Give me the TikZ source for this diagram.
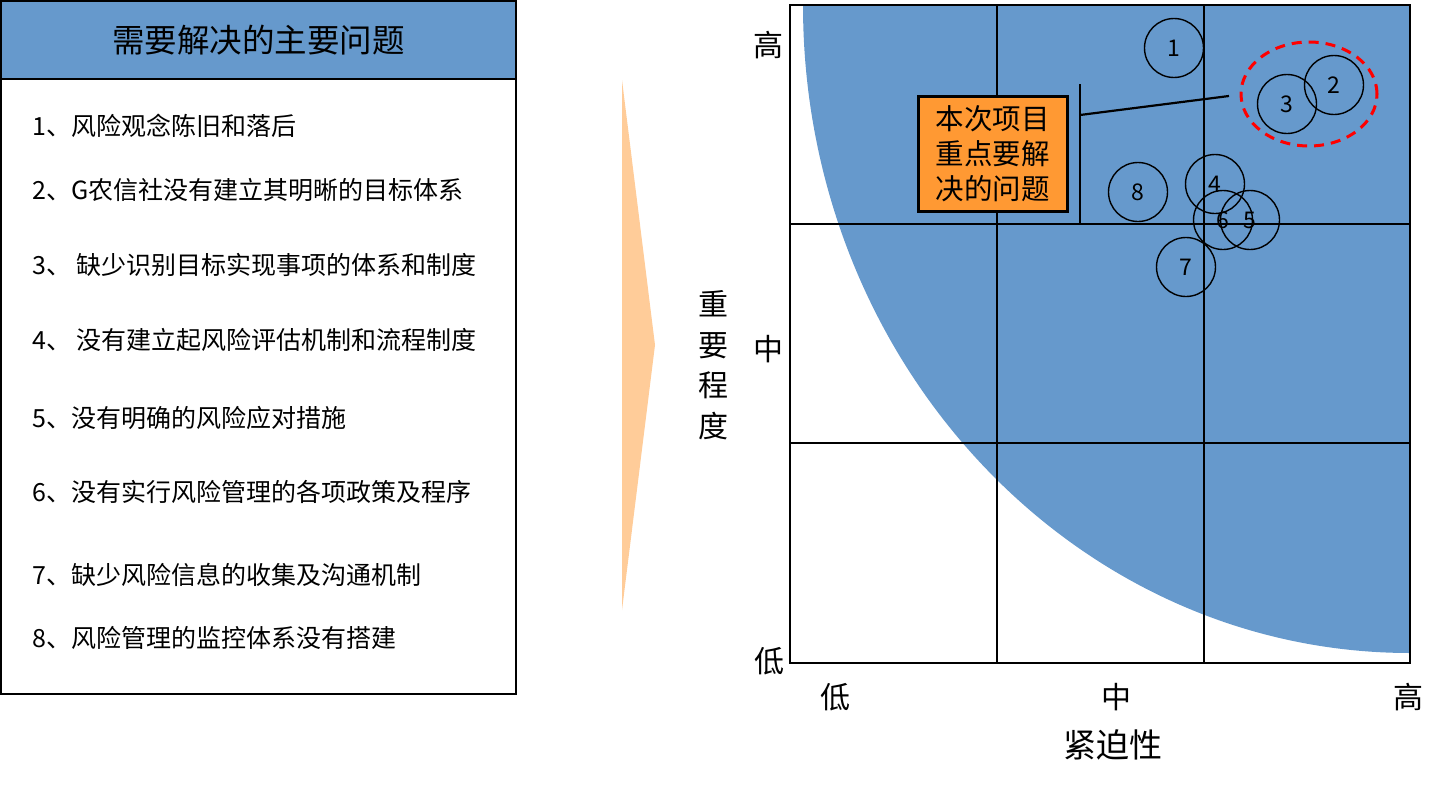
\documentclass[tikz,border=0pt]{standalone}
\usepackage{fontspec}
\setmainfont{Noto Sans CJK SC}
\usetikzlibrary{shapes.geometric}
\definecolor{chartblue}{RGB}{102,153,204}
\definecolor{boxorange}{RGB}{255,153,51}
\definecolor{arrowpeach}{RGB}{255,204,153}
\begin{document}
\begin{tikzpicture}[x=1pt,y=-1pt,
  item/.style={anchor=west, font=\fontsize{25}{30}\selectfont, inner sep=0pt},
  axlab/.style={font=\fontsize{30}{36}\selectfont, inner sep=0pt},
  num/.style={draw, circle, minimum size=59pt, inner sep=0pt, line width=1.4pt, font=\fontsize{23}{26}\selectfont},
  gridline/.style={line width=1.6pt},
]
\useasboundingbox (0,0) rectangle (1452,787);
% ---------- left panel ----------
\node[draw, line width=1.6pt, minimum width=515pt, minimum height=693pt, inner sep=0pt] (panel) at (258.5,347.5) {};
\node[draw, line width=1.6pt, fill=chartblue, minimum width=515pt, minimum height=78pt, inner sep=0pt,
      font=\fontsize{32.5}{36}\selectfont] (head) at (258.5,40) {需要解决的主要问题};
\node[item] (i1) at (32,126) {1、风险观念陈旧和落后};
\node[item] (i2) at (32,190) {2、G农信社没有建立其明晰的目标体系};
\node[item] (i3) at (32,265) {3、 缺少识别目标实现事项的体系和制度};
\node[item] (i4) at (32,340) {4、 没有建立起风险评估机制和流程制度};
\node[item] (i5) at (32,418) {5、没有明确的风险应对措施};
\node[item] (i6) at (32,492) {6、没有实行风险管理的各项政策及程序};
\node[item] (i7) at (32,575) {7、缺少风险信息的收集及沟通机制};
\node[item] (i8) at (32,638) {8、风险管理的监控体系没有搭建};
% ---------- arrow ----------
\fill[arrowpeach] (622,80) -- (655,345) -- (622,610) -- cycle;
% ---------- chart ----------
\begin{scope}
  \clip (790,5) rectangle (1410,663);
  \fill[chartblue] (1410,5) ellipse [x radius=607pt, y radius=648pt];
\end{scope}
\draw[gridline] (790,5) rectangle (1410,663);
\draw[gridline] (997,5) -- (997,663);
\draw[gridline] (1204,5) -- (1204,663);
\draw[gridline] (790,224) -- (1410,224);
\draw[gridline] (790,443) -- (1410,443);
% axis labels
\node[axlab] (yh) at (768,45) {高};
\node[axlab] (ym) at (768,349) {中};
\node[axlab] (yl) at (769,661) {低};
\node[axlab] (xl) at (835,697) {低};
\node[axlab] (xm) at (1116,697) {中};
\node[axlab] (xh) at (1408,697) {高};
\node[axlab, font=\fontsize{33}{36}\selectfont] (xt) at (1113,745) {紧迫性};
\node[axlab, align=center, font=\fontsize{30}{40.5}\selectfont] (yt) at (713,365) {重\\要\\程\\度};
% numbered circles
\node[num] (c1) at (1174,48) {1};
\node[num] (c2) at (1334,85) {2};
\node[num] (c3) at (1287,104) {3};
\node[num] (c4) at (1215,184) {4};
\node[num] (c8) at (1138,192) {8};
\node[num] (c6) at (1223,220) {6};
\node[num] (c5) at (1250,220) {5};
\node[num] (c7) at (1186,267) {7};
% red group
\node[draw=red, ellipse, line width=3pt, dash pattern=on 10pt off 7pt,
      minimum width=136pt, minimum height=104pt, inner sep=0pt] (grp) at (1309,94) {};
% focus box
\node[draw, line width=3pt, fill=boxorange, minimum width=149pt, minimum height=115pt,
      align=left, inner sep=0pt, font=\fontsize{28.5}{35}\selectfont] (focus) at (992.5,153.5) {本次项目\\重点要解\\决的问题};
% bracket
\coordinate (bt) at (1080,84);
\coordinate (bb) at (1080,223);
\coordinate (bm) at (1080,115);
\coordinate (be) at (1229,96);
\draw[line width=2.2pt] (bt) -- (bb);
\draw[line width=2.2pt] (bm) -- (be);
\end{tikzpicture}
\end{document}
